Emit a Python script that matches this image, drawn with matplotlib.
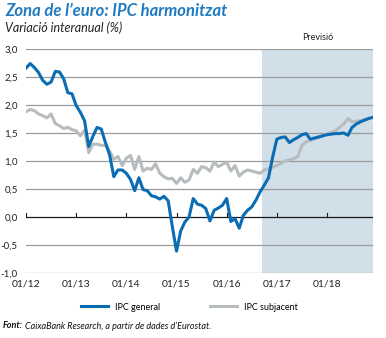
import matplotlib
matplotlib.use("Agg")
import matplotlib.pyplot as plt
from matplotlib.lines import Line2D
import numpy as np

plt.rcParams['font.family'] = ['Lato', 'DejaVu Sans']

# monthly values, 01/2012 .. 12/2018
ipc_general = [
    2.66, 2.74, 2.67, 2.58, 2.44, 2.37, 2.41, 2.60, 2.59, 2.47, 2.22, 2.20,
    1.99, 1.87, 1.72, 1.26, 1.44, 1.60, 1.57, 1.33, 1.11, 0.72, 0.84, 0.84,
    0.78, 0.67, 0.47, 0.70, 0.49, 0.47, 0.38, 0.36, 0.32, 0.37, 0.29, -0.17,
    -0.61, -0.25, -0.09, 0.00, 0.33, 0.23, 0.21, 0.15, -0.07, 0.12, 0.16, 0.21,
    0.33, -0.08, -0.03, -0.20, 0.03, 0.12, 0.18, 0.30, 0.45, 0.57, 0.70, 1.07,
    1.39, 1.42, 1.43, 1.33, 1.38, 1.42, 1.47, 1.49, 1.39, 1.41, 1.43, 1.45,
    1.47, 1.48, 1.49, 1.49, 1.50, 1.46, 1.60, 1.66, 1.70, 1.73, 1.76, 1.78,
]
ipc_subjacent = [
    1.88, 1.92, 1.90, 1.84, 1.81, 1.77, 1.84, 1.67, 1.63, 1.58, 1.60, 1.56,
    1.54, 1.45, 1.55, 1.15, 1.30, 1.30, 1.28, 1.28, 1.18, 1.03, 1.08, 0.92,
    1.05, 1.10, 0.85, 1.08, 0.82, 0.87, 0.85, 0.95, 0.78, 0.72, 0.68, 0.69,
    0.60, 0.70, 0.62, 0.66, 0.85, 0.78, 0.90, 0.88, 0.82, 0.98, 0.90, 0.94,
    0.98, 0.82, 0.92, 0.73, 0.80, 0.84, 0.82, 0.80, 0.78, 0.84, 0.86, 0.89,
    0.92, 0.96, 1.00, 1.02, 1.04, 1.08, 1.28, 1.34, 1.37, 1.40, 1.42, 1.45,
    1.49, 1.51, 1.54, 1.60, 1.66, 1.76, 1.70, 1.71, 1.72, 1.74, 1.76, 1.78,
]
year_labels = ['01/12', '01/13', '01/14', '01/15', '01/16', '01/17', '01/18']
forecast_start = 56.4  # months after 01/12 (around 09/16)

blue = '#0a6db4'
grey = '#b7bcbe'
shade = '#d1dfe8'

months = np.arange(len(ipc_general))

fig = plt.figure(figsize=(3.86, 3.38), dpi=100)
ax = fig.add_axes([26 / 386, 1 - 273 / 338, (373 - 26) / 386, (273 - 49) / 338])

ax.axvspan(forecast_start, months[-1], color=shade, lw=0, zorder=0)
for v in np.arange(-1.0, 3.01, 0.5):
    if abs(v) < 1e-9:
        continue
    ax.axhline(v, color='#9a9a9a', lw=0.9, zorder=1)
ax.axhline(0, color='#1a1a1a', lw=0.9, zorder=1)

ax.plot(months, ipc_subjacent, color=grey, lw=2.2, zorder=3, solid_joinstyle='round')
ax.plot(months, ipc_general, color=blue, lw=2.2, zorder=4, solid_joinstyle='round')

# small tick marks on the zero line
for i in range(len(year_labels)):
    ax.plot([i * 12, i * 12], [0, 0.07], color='#1a1a1a', lw=0.8, zorder=2)

ax.set_xlim(0, months[-1])
ax.set_ylim(-1.0, 3.0)
for s in ax.spines.values():
    s.set_visible(False)
ax.set_yticks(np.arange(-1.0, 3.01, 0.5))
ax.set_yticklabels([f'{v:.1f}'.replace('.', ',') for v in np.arange(-1.0, 3.01, 0.5)],
                   fontsize=7, color='#222222')
ax.set_xticks(np.arange(len(year_labels)) * 12)
ax.set_xticklabels(year_labels, fontsize=7.5, color='#222222')
ax.tick_params(axis='both', length=0)
ax.tick_params(axis='x', pad=4.5)
ax.tick_params(axis='y', pad=6)

ax.text((forecast_start + months[-1]) / 2, 3.12, 'Previsió', ha='center', va='bottom',
        fontsize=6.5, color='#222222')

fig.text(0.013, 0.968, 'Zona de l\u2019euro: IPC harmonitzat', fontsize=12,
         fontweight='bold', style='italic', color='#1f7bc1', va='center')
fig.text(0.013, 0.918, 'Variació interanual (%)', fontsize=9, style='italic',
         color='#222222', va='center')

handles = [Line2D([], [], color=blue, lw=2.2), Line2D([], [], color=grey, lw=2.2)]
fig.legend(handles, ['IPC general', 'IPC subjacent'], loc='center',
           bbox_to_anchor=(0.49, 1 - 307 / 338), ncol=2, frameon=False,
           fontsize=6.5, handlelength=3.0, columnspacing=5.5, handletextpad=0.8)

# source line: bold "Font:" followed by the rest
src_y = 1 - 326 / 338
t1 = fig.text(0.008, src_y, 'Font:', fontsize=6.5, style='italic', fontweight='bold',
              va='center', color='#111111')
fig.canvas.draw()
bb = t1.get_window_extent()
x2 = bb.x1 / fig.bbox.width + 0.004
fig.text(x2, src_y, 'CaixaBank Research, a partir de dades d\u2019Eurostat.',
         fontsize=6.5, style='italic', va='center', color='#111111')
fig.savefig('out.png', dpi=100)
